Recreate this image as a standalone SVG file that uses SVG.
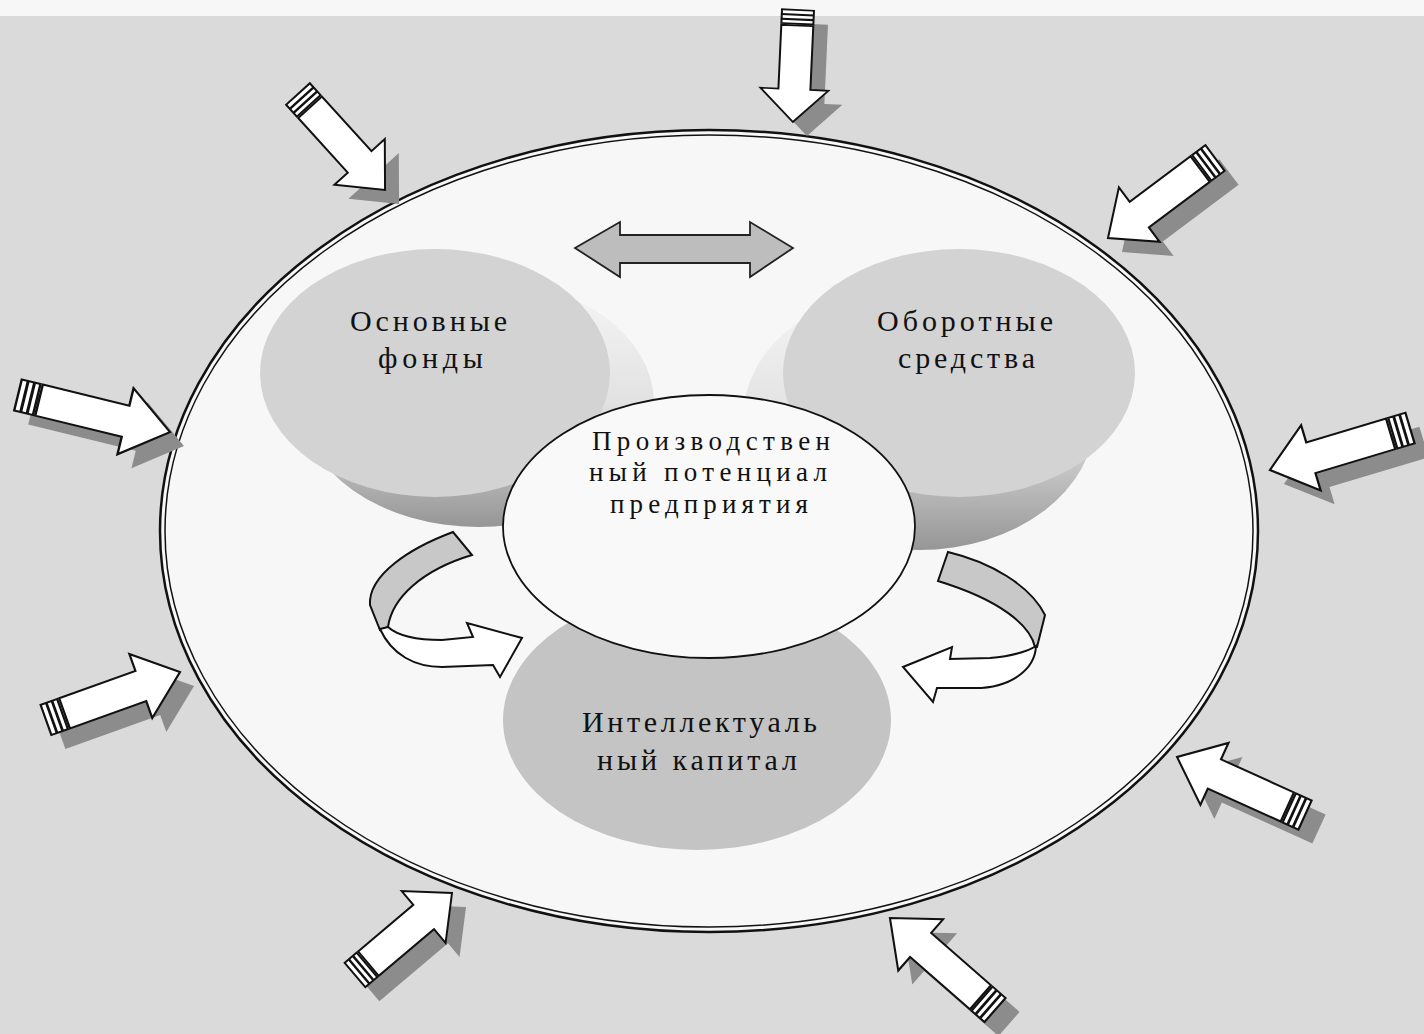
<svg xmlns="http://www.w3.org/2000/svg" xmlns:xlink="http://www.w3.org/1999/xlink" width="1424" height="1034" viewBox="0 0 1424 1034">
<style>
.lbl{font-family:"Liberation Serif","DejaVu Serif",serif;fill:#111;text-anchor:middle}
.ol{fill:#fff;stroke:#111;stroke-width:2;stroke-linejoin:miter}
.sh{fill:#8c8c8c}
.face{fill:#d3d3d3}
.curve-back{fill:#c8c8c8;stroke:#111;stroke-width:2}
.curve-front{fill:#fff;stroke:#111;stroke-width:2}
</style>
<defs>
<linearGradient id="extL" x1="0" y1="0" x2="0" y2="1">
<stop offset="0" stop-color="#f6f6f6"/>
<stop offset="0.5" stop-color="#e2e2e2"/>
<stop offset="1" stop-color="#969696"/>
</linearGradient>
<linearGradient id="extR" x1="0" y1="0" x2="0" y2="1">
<stop offset="0" stop-color="#f6f6f6"/>
<stop offset="0.5" stop-color="#e2e2e2"/>
<stop offset="1" stop-color="#969696"/>
</linearGradient>
<g id="arrow">
<path class="ol" d="M18,-16 L92,-16 L92,-34 L130,0 L92,34 L92,16 L18,16 Z"/>
<rect class="ol" x="0" y="-16" width="16" height="32"/>
<line x1="5.5" y1="-16" x2="5.5" y2="16" stroke="#111" stroke-width="2.5"/>
<line x1="11" y1="-16" x2="11" y2="16" stroke="#111" stroke-width="2.5"/>
</g>
<path id="arrowSh" class="sh" d="M0,-16 L92,-16 L92,-34 L130,0 L92,34 L92,16 L0,16 Z"/>
</defs>

<rect x="0" y="0" width="1424" height="1034" fill="#dadada"/>
<rect x="0" y="0" width="1424" height="16" fill="#f7f7f7"/>

<g id="outer-ellipse">
<ellipse cx="709" cy="531" rx="549" ry="401" fill="#f7f7f7" stroke="#111" stroke-width="2.5"/>
<ellipse cx="709" cy="531" rx="544" ry="396" fill="none" stroke="#111" stroke-width="1.5"/>
</g>

<g id="node-osnovnye">
<ellipse cx="478" cy="403" rx="176" ry="124" fill="url(#extL)"/>
<ellipse class="face" cx="435" cy="373" rx="175" ry="124"/>
<text class="lbl" x="428.5" y="331" font-size="30" textLength="157" lengthAdjust="spacing">Основные</text>
<text class="lbl" x="430.5" y="368" font-size="30" textLength="105" lengthAdjust="spacing">фонды</text>
</g>

<g id="node-oborotnye">
<ellipse cx="919" cy="418" rx="176" ry="132" fill="url(#extR)"/>
<ellipse class="face" cx="959" cy="373" rx="176" ry="124"/>
<text class="lbl" x="965" y="331" font-size="30" textLength="176" lengthAdjust="spacing">Оборотные</text>
<text class="lbl" x="966.5" y="368" font-size="30" textLength="137" lengthAdjust="spacing">средства</text>
</g>

<g id="node-intellekt">
<ellipse cx="697" cy="720" rx="194" ry="130" fill="#c4c4c4"/>
<text class="lbl" x="699.5" y="732" font-size="30" textLength="235" lengthAdjust="spacing">Интеллектуаль</text>
<text class="lbl" x="697" y="770" font-size="30" textLength="200" lengthAdjust="spacing">ный капитал</text>
</g>

<g id="node-center">
<ellipse cx="709" cy="526.5" rx="206" ry="131.5" fill="#f9f9f9" stroke="#111" stroke-width="1.8"/>
<text class="lbl" x="711" y="450" font-size="27" textLength="238" lengthAdjust="spacing">Производствен</text>
<text class="lbl" x="708" y="481" font-size="27" textLength="238" lengthAdjust="spacing">ный потенциал</text>
<text class="lbl" x="709" y="513" font-size="27" textLength="198" lengthAdjust="spacing">предприятия</text>
</g>

<g id="connectors">
<!-- double arrow between top circles -->
<path d="M575,248 L620,222 L620,235 L750,235 L750,222 L793,248 L750,277 L750,263 L620,263 L620,277 Z" fill="#bdbdbd" stroke="#222" stroke-width="1.8"/>

<!-- left curved arrow -->
<path class="curve-back" d="M453,532 C410,548 368,575 370,605 L380,630 L388,627 C392,598 422,570 472,555 Z"/>
<path class="curve-front" d="M380,629 C392,655 415,667 442,667 L493,665 L500,677 L522,638 L467,623 L473,637 L442,640 C418,640 398,636 388,627 Z"/>

<!-- right curved arrow -->
<path class="curve-back" d="M948,552 C990,562 1030,585 1045,615 L1037,647 L1035,647 C1030,625 1000,600 938,581 Z"/>
<path class="curve-front" d="M1036,646 C1035,670 1010,688 975,688 L937,688 L933,702 L903,667 L952,647 L950,659 L990,658 C1015,656 1030,650 1036,646 Z"/>

<!-- shadows of striped arrows -->
<g transform="translate(14,14)">
<use xlink:href="#arrowSh" transform="translate(798,10) rotate(92.6) scale(0.862,1)"/>
<use xlink:href="#arrowSh" transform="translate(298,94) rotate(47.8) scale(0.997,1)"/>
<use xlink:href="#arrowSh" transform="translate(1215,158) rotate(143.2) scale(1.028,1)"/>
<use xlink:href="#arrowSh" transform="translate(18,395) rotate(13.7) scale(1.203,1)"/>
<use xlink:href="#arrowSh" transform="translate(1410,428) rotate(163.3) scale(1.125,1)"/>
<use xlink:href="#arrowSh" transform="translate(46,720) rotate(-19.7) scale(1.095,1)"/>
<use xlink:href="#arrowSh" transform="translate(1305,815) rotate(-155.6) scale(1.081,1)"/>
<use xlink:href="#arrowSh" transform="translate(355,975) rotate(-40.2) scale(0.977,1)"/>
<use xlink:href="#arrowSh" transform="translate(995,1010) rotate(-138.8) scale(1.074,1)"/>
</g>
<!-- striped arrows -->
<use xlink:href="#arrow" transform="translate(798,10) rotate(92.6) scale(0.862,1)"/>
<use xlink:href="#arrow" transform="translate(298,94) rotate(47.8) scale(0.997,1)"/>
<use xlink:href="#arrow" transform="translate(1215,158) rotate(143.2) scale(1.028,1)"/>
<use xlink:href="#arrow" transform="translate(18,395) rotate(13.7) scale(1.203,1)"/>
<use xlink:href="#arrow" transform="translate(1410,428) rotate(163.3) scale(1.125,1)"/>
<use xlink:href="#arrow" transform="translate(46,720) rotate(-19.7) scale(1.095,1)"/>
<use xlink:href="#arrow" transform="translate(1305,815) rotate(-155.6) scale(1.081,1)"/>
<use xlink:href="#arrow" transform="translate(355,975) rotate(-40.2) scale(0.977,1)"/>
<use xlink:href="#arrow" transform="translate(995,1010) rotate(-138.8) scale(1.074,1)"/>
</g>
</svg>
